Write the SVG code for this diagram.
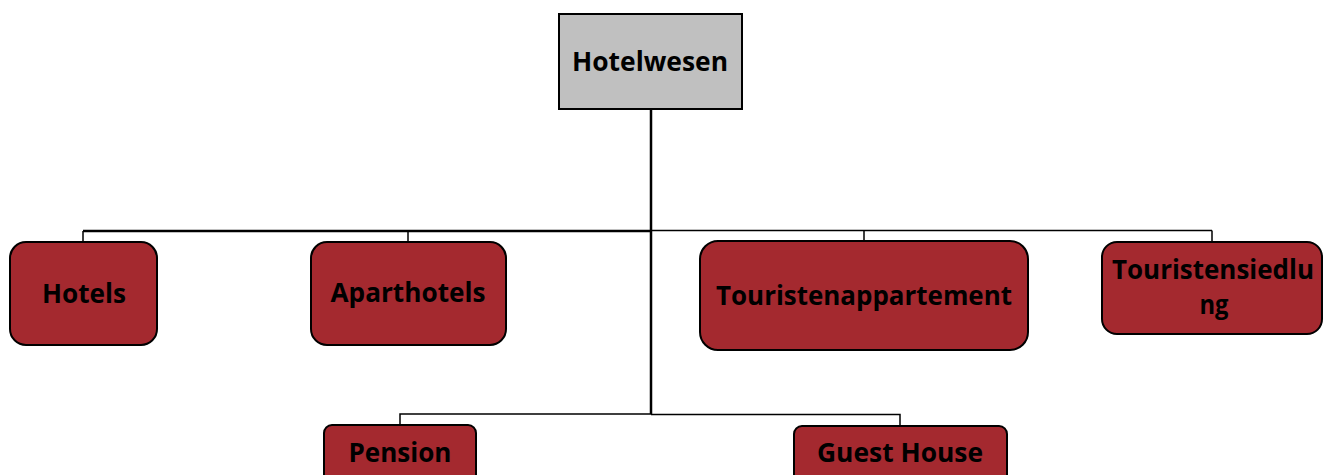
<svg xmlns="http://www.w3.org/2000/svg" width="1328" height="475" viewBox="0 0 1328 475">
<style>
.node{fill:#A4292F;stroke:#000;stroke-width:2}
.root{fill:#C0C0C0;stroke:#000;stroke-width:2}
.lbl{font-family:"Open Sans","Liberation Sans",sans-serif;font-weight:700;font-size:26px;fill:#000;text-anchor:middle}
.conn{fill:none;stroke:#000;stroke-width:1.5}
.trunk{fill:none;stroke:#000;stroke-width:2.5}
</style>
<rect width="1328" height="475" fill="#fff"/>
<g id="connectors">
<path class="trunk" d="M651 109V414"/>
<path class="trunk" d="M83 231H651"/>
<path class="conn" d="M651 230.5H1212M83 231V243M408 231V243M864 230.5V242M1212 230.5V243"/>
<path class="conn" d="M400 425V414H651M651 414.5H900V426"/>
</g>
<g id="node-hotelwesen">
<rect class="root" x="559" y="14" width="183" height="95"/>
<text class="lbl" x="650" y="71" textLength="156" lengthAdjust="spacingAndGlyphs">Hotelwesen</text>
</g>
<g id="node-hotels">
<rect class="node" x="10" y="242" width="147" height="103" rx="16"/>
<text class="lbl" x="84" y="303" textLength="84" lengthAdjust="spacingAndGlyphs">Hotels</text>
</g>
<g id="node-aparthotels">
<rect class="node" x="311" y="242" width="195" height="103" rx="16"/>
<text class="lbl" x="408" y="302" textLength="155" lengthAdjust="spacingAndGlyphs">Aparthotels</text>
</g>
<g id="node-touristenappartement">
<rect class="node" x="700" y="241" width="328" height="109" rx="18"/>
<text class="lbl" x="864" y="305" textLength="296" lengthAdjust="spacingAndGlyphs">Touristenappartement</text>
</g>
<g id="node-touristensiedlung">
<rect class="node" x="1102" y="242" width="220" height="92" rx="15"/>
<text class="lbl" x="1213" y="279" textLength="202" lengthAdjust="spacingAndGlyphs">Touristensiedlu</text>
<text class="lbl" x="1214" y="314" textLength="29" lengthAdjust="spacingAndGlyphs">ng</text>
</g>
<g id="node-pension">
<rect class="node" x="324" y="425" width="152" height="70" rx="8"/>
<text class="lbl" x="400" y="462" textLength="103" lengthAdjust="spacingAndGlyphs">Pension</text>
</g>
<g id="node-guesthouse">
<rect class="node" x="794" y="426" width="213" height="70" rx="8"/>
<text class="lbl" x="900" y="462" textLength="166" lengthAdjust="spacingAndGlyphs">Guest House</text>
</g>
</svg>
